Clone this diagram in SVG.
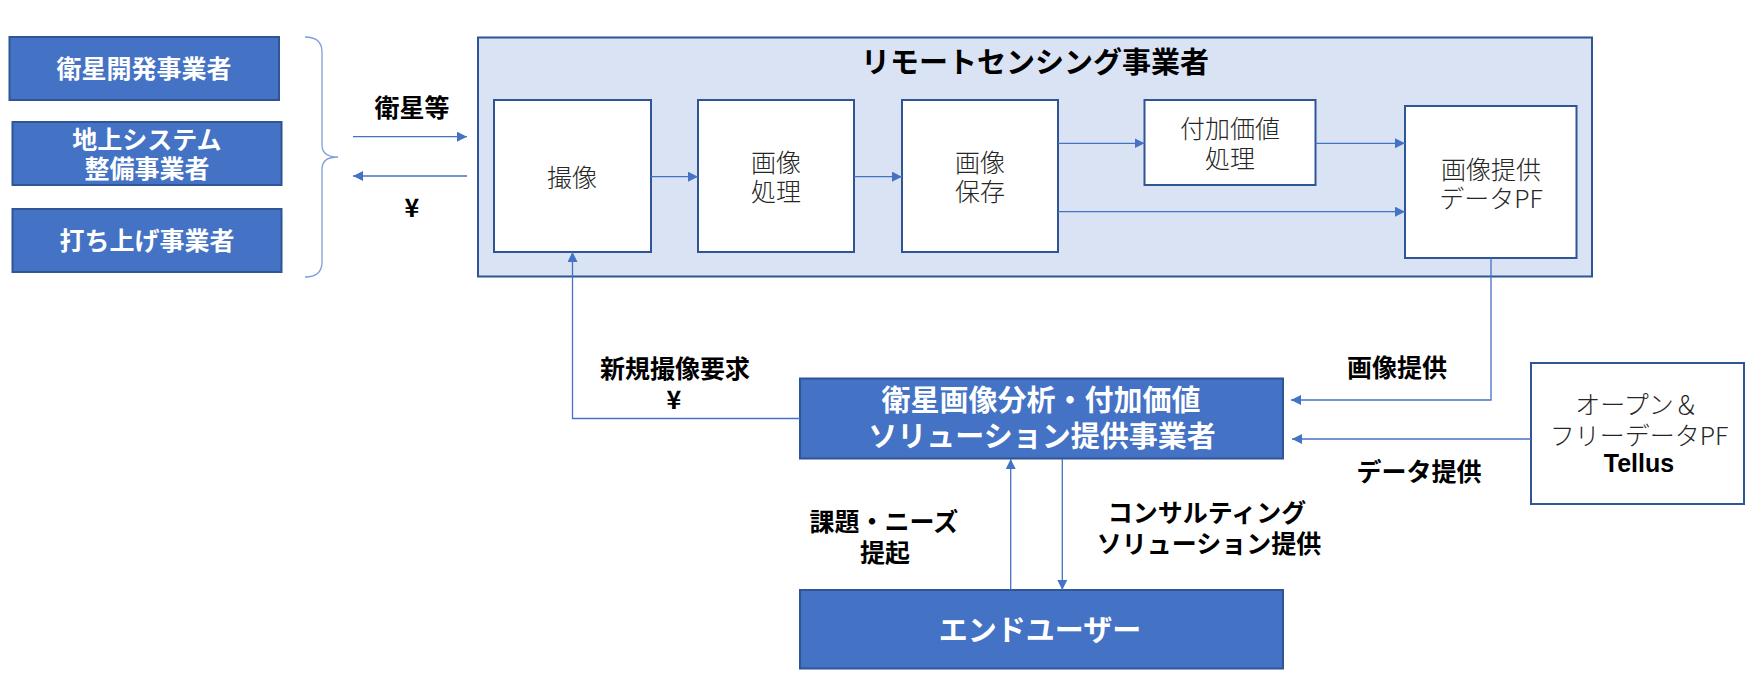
<svg xmlns="http://www.w3.org/2000/svg" width="1754" height="684" viewBox="0 0 1754 684">
<style>
text{font-family:"Noto Sans CJK JP","Noto Sans",sans-serif;dominant-baseline:central;text-anchor:middle}
tspan{dominant-baseline:central}
.dark{fill:#4472c4;stroke:#2f5597;stroke-width:2}
.white{fill:#ffffff;stroke:#2f5597;stroke-width:2}
.wt{fill:#ffffff;font-weight:bold;font-size:25px}
.wt29{fill:#ffffff;font-weight:bold;font-size:29px}
.inner{fill:#262626;font-size:25px;font-weight:300}
.lbl{fill:#000000;font-weight:bold;font-size:25px}
.conn{fill:none;stroke:#4472c4;stroke-width:1.3}
</style>
<defs>
<marker id="ah" markerUnits="userSpaceOnUse" markerWidth="12" markerHeight="12" refX="10" refY="5" orient="auto">
<path d="M0,0 L10,5 L0,10 z" fill="#4472c4"/>
</marker>
</defs>
<rect width="1754" height="684" fill="#ffffff"/>

<g id="sat-dev">
<rect class="dark" x="9.5" y="37" width="269.5" height="63"/>
<text class="wt" x="144" y="67">衛星開発事業者</text>
</g>
<g id="ground-sys">
<rect class="dark" x="12.5" y="122" width="269" height="63"/>
<text class="wt"><tspan x="147" y="138">地上システム</tspan><tspan x="147" y="167">整備事業者</tspan></text>
</g>
<g id="launch">
<rect class="dark" x="12.5" y="209" width="269" height="63"/>
<text class="wt" x="147" y="239">打ち上げ事業者</text>
</g>
<g id="bracket">
<path d="M305,37 Q322,37 322,52 L322,145 Q322,157 338,157 Q322,157 322,169 L322,262 Q322,277 305,277" fill="none" stroke="#7f9fd6" stroke-width="1.3"/>
</g>

<g id="rs-operator">
<rect x="478" y="37.5" width="1114" height="239" fill="#dae3f3" stroke="#2f5597" stroke-width="2"/>
<text x="1035" y="60" style="font-size:29px;font-weight:bold;fill:#000">リモートセンシング事業者</text>
</g>
<g id="capture">
<rect class="white" x="494" y="100" width="157" height="152"/>
<text class="inner" x="572" y="176">撮像</text>
</g>
<g id="processing">
<rect class="white" x="698" y="100" width="156" height="152"/>
<text class="inner"><tspan x="776" y="161">画像</tspan><tspan x="776" y="190">処理</tspan></text>
</g>
<g id="storage">
<rect class="white" x="902" y="100" width="156" height="152"/>
<text class="inner"><tspan x="980" y="161">画像</tspan><tspan x="980" y="190">保存</tspan></text>
</g>
<g id="value-add">
<rect class="white" x="1144.5" y="100" width="171" height="85"/>
<text class="inner"><tspan x="1230" y="127">付加価値</tspan><tspan x="1230" y="157">処理</tspan></text>
</g>
<g id="image-pf">
<rect class="white" x="1405" y="106" width="171.5" height="152"/>
<text class="inner"><tspan x="1491" y="167.5">画像提供</tspan><tspan x="1491" y="197">データPF</tspan></text>
</g>

<g id="solution">
<rect class="dark" x="800" y="378.5" width="483" height="80"/>
<text class="wt29"><tspan x="1041" y="398">衛星画像分析・付加価値</tspan><tspan x="1042" y="434">ソリューション提供事業者</tspan></text>
</g>
<g id="tellus">
<rect class="white" x="1531" y="363" width="213" height="141"/>
<text class="inner"><tspan x="1637" y="403">オープン＆</tspan><tspan x="1639" y="434">フリーデータPF</tspan><tspan x="1639" y="472" style="font-family:'Liberation Sans',Arial,sans-serif;font-weight:bold;fill:#000;dominant-baseline:alphabetic">Tellus</tspan></text>
</g>
<g id="end-user">
<rect class="dark" x="800" y="590" width="483" height="78.5"/>
<text class="wt29" x="1040" y="628">エンドユーザー</text>
</g>

<g id="connectors">
<line class="conn" x1="353" y1="136.7" x2="467" y2="136.7" marker-end="url(#ah)"/>
<line class="conn" x1="467" y1="176" x2="353" y2="176" marker-end="url(#ah)"/>
<line class="conn" x1="651" y1="176.7" x2="698" y2="176.7" marker-end="url(#ah)"/>
<line class="conn" x1="854" y1="176.7" x2="902" y2="176.7" marker-end="url(#ah)"/>
<line class="conn" x1="1058" y1="143.3" x2="1144.5" y2="143.3" marker-end="url(#ah)"/>
<line class="conn" x1="1315.5" y1="143.3" x2="1405" y2="143.3" marker-end="url(#ah)"/>
<line class="conn" x1="1058" y1="211.7" x2="1405" y2="211.7" marker-end="url(#ah)"/>
<polyline class="conn" points="800,418.5 572.5,418.5 572.5,252" marker-end="url(#ah)"/>
<polyline class="conn" points="1491,258 1491,400 1291,400" marker-end="url(#ah)"/>
<line class="conn" x1="1531" y1="439" x2="1292" y2="439" marker-end="url(#ah)"/>
<line class="conn" x1="1010.7" y1="590" x2="1010.7" y2="459" marker-end="url(#ah)"/>
<line class="conn" x1="1062.3" y1="459" x2="1062.3" y2="590" marker-end="url(#ah)"/>
</g>

<g id="labels">
<text class="lbl" x="412" y="106">衛星等</text>
<text class="lbl" x="412" y="206">¥</text>
<text class="lbl"><tspan x="675" y="367">新規撮像要求</tspan><tspan x="674" y="398">¥</tspan></text>
<text class="lbl" x="1397" y="366">画像提供</text>
<text class="lbl" x="1419" y="470">データ提供</text>
<text class="lbl"><tspan x="884" y="520">課題・ニーズ</tspan><tspan x="885" y="551">提起</tspan></text>
<text class="lbl"><tspan x="1207" y="511">コンサルティング</tspan><tspan x="1209" y="542">ソリューション提供</tspan></text>
</g>
</svg>
